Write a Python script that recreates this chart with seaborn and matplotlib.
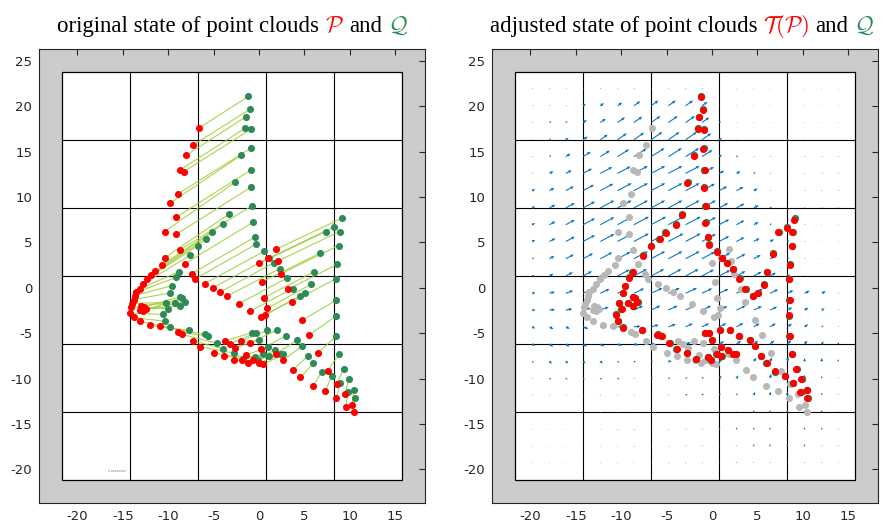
import numpy as np
import pandas as pd
import matplotlib
matplotlib.use("Agg")
import matplotlib.pyplot as plt
import seaborn as sns
from matplotlib.patches import Rectangle

# ---------------- data ----------------
# source cloud P (red, left) -- paired with target cloud Q (green)
P_x = [-6.59, -7.29, -8.02, -8.68, -8.28, -8.9, -9.83, -9.17, -10.4, -9.1, -8.68,
       -10.4, -8.13, -10.7, -11.4, -11.85, -12.36, -12.8, -13.1, -13.5, -13.7, -13.8,
       -14.0, -14.1, -13.0, -12.65, -12.4, -13.1, -12.8, -14.16, -13.8, -13.06, -12.0,
       -10.9, -8.87, -8.43, -7.25, -6.44, -4.98, -3.8, -3.76, -3.2, -2.66, -2.7, -2.0,
       -0.96, 0.25, -1.45, -1.9, -1.23, -0.6, -0.02, 0.5, 1.83, 2.63, 3.73, 4.58, 5.94,
       7.3, 8.52, 9.58, 10.46, 10.28, 9.47, 8.58, 7.56, 6.46, 5.57, 4.77, 3.62, 3.23,
       2.45, 2.08, 1.83, 1.05, 0.06, 0.39, 0.61, 0.94, 0.69, 0.25, -0.96, -2.18, -3.47,
       -4.27, -5.04, -5.97, -7.0, -7.4]
P_y = [17.6, 15.7, 14.6, 13.0, 12.8, 10.35, 9.3, 7.75, 6.2, 5.9, 4.2,
       3.3, 2.66, 2.5, 1.85, 1.45, 1.0, 0.4, -0.08, -0.5, -0.85, -1.3,
       -1.73, -2.14, -1.95, -2.1, -2.3, -2.4, -2.55, -2.77, -3.27, -3.71, -4.15,
       -4.26, -4.9, -5.14, -5.84, -6.5, -7.16, -7.5, -5.84, -6.17, -6.6, -8.0, -5.9,
       -6.06, -6.75, -7.4, -7.96, -8.3, -7.9, -8.33, -8.44, -7.3, -8.0, -9.06, -9.86, -10.85,
       -11.4, -12.17, -13.13, -13.68, -12.94, -11.7, -10.6, -9.14, -7.2, -5.18, -3.57, -1.56, -0.16,
       1.56, 2.95, 4.23, 3.25, 2.7, 0.68, -1.07, -2.25, -2.99, -3.24, -2.58, -1.73, -0.9,
       -0.46, 0.03, 0.46, 1.0, 1.56]
Q_x = [-1.15, -1.0, -1.4, -1.48, -0.9, -0.9, -1.96, -0.85, -2.66, -0.85, -0.74,
       -3.32, -0.7, -3.98, -5.12, -5.8, -6.7, -7.58, -8.79, -9.09, -9.56, -9.83,
       -10.23, -10.0, -9.2, -8.73, -8.2, -8.73, -8.43, -10.6, -10.4, -9.83, -7.73,
       -5.97, -5.56, -4.65, -3.94, -2.7, -1.74, -0.41, -0.79, -0.3, -0.02, -0.1, 0.94,
       1.97, 2.93, 1.05, 0.5, 1.09, 1.79, 2.27, 2.63, 4.17, 4.77, 5.39, 6.0, 6.93,
       8.03, 8.96, 9.8, 10.54, 10.43, 9.9, 9.32, 8.8, 8.52, 8.52, 8.52, 8.44, 8.63,
       8.77, 8.9, 9.1, 8.3, 7.37, 6.75, 6.09, 5.76, 5.1, 4.5, 3.7, 3.04, 2.27,
       1.68, 1.13, 0.53, -0.35, -0.41]
Q_y = [21.08, 19.65, 18.85, 17.6, 17.45, 15.37, 14.6, 13.0, 11.6, 11.1, 9.04,
       8.1, 7.2, 7.0, 6.1, 5.4, 4.64, 3.57, 1.78, 1.16, 0.24, -0.57,
       -1.62, -2.3, -1.62, -1.0, -1.56, -2.0, -1.07, -2.94, -3.68, -4.37, -4.67,
       -5.14, -5.3, -6.1, -6.72, -7.2, -7.85, -7.6, -4.96, -4.96, -5.77, -7.95, -4.67,
       -4.67, -5.33, -6.54, -7.3, -7.52, -6.87, -7.3, -7.34, -5.77, -6.4, -7.52, -8.33, -9.25,
       -9.72, -10.5, -11.5, -12.14, -11.3, -10.05, -8.95, -7.34, -5.33, -3.1, -1.37, 0.97, 2.59,
       4.64, 6.2, 7.64, 6.73, 6.2, 3.83, 1.78, 0.39, -0.57, -0.9, -0.08, 1.05, 2.11,
       2.77, 3.32, 4.0, 4.78, 5.6]
# adjusted cloud T(P) (red, right)
TP_x = [-1.2, -0.95, -1.4, -1.55, -0.85, -0.95, -2.0, -0.8, -2.7, -0.9, -0.7,
        -3.3, -0.75, -4.0, -5.1, -5.75, -6.7, -7.55, -8.75, -9.1, -9.6, -9.8,
        -10.2, -9.95, -9.25, -8.7, -8.25, -8.7, -8.45, -10.55, -10.4, -9.8, -7.7,
        -6.0, -5.5, -4.7, -3.9, -2.75, -1.7, -0.45, -0.75, -0.35, 0.05, -0.15, 0.9,
        1.95, 2.95, 1.0, 0.55, 1.05, 1.75, 2.3, 2.6, 4.15, 4.75, 5.4, 6.05, 6.9,
        8.0, 8.95, 9.75, 10.5, 10.45, 9.85, 9.3, 8.85, 8.55, 8.5, 8.55, 8.45, 8.6,
        8.8, 8.85, 9.0, 8.25, 7.3, 6.7, 6.1, 5.7, 5.05, 4.5, 3.65, 3.0, 2.3,
        1.7, 1.1, 0.55, -0.3, -0.45]
TP_y = [21.0, 19.6, 18.8, 17.5, 17.4, 15.3, 14.5, 12.95, 11.5, 11.0, 9.0,
        8.05, 7.15, 6.95, 6.05, 5.35, 4.6, 3.5, 1.75, 1.1, 0.2, -0.6,
        -1.65, -2.35, -1.65, -1.05, -1.6, -2.05, -1.1, -2.95, -3.7, -4.4, -4.7,
        -5.15, -5.3, -6.1, -6.7, -7.2, -7.8, -7.6, -4.95, -4.95, -5.75, -7.9, -4.65,
        -4.65, -5.3, -6.5, -7.3, -7.5, -6.85, -7.3, -7.3, -5.75, -6.4, -7.5, -8.3, -9.2,
        -9.7, -10.45, -11.45, -12.1, -11.25, -10.0, -8.9, -7.3, -5.3, -3.05, -1.35, 0.95, 2.55,
        4.6, 6.1, 7.5, 6.6, 6.1, 3.75, 1.7, 0.35, -0.6, -0.9, -0.1, 1.0, 2.05,
        2.75, 3.3, 3.95, 4.75, 5.55]

# control grid (cell edges) of the deformation
grid_x = [-21.7, -14.2, -6.7, 0.8, 8.3, 15.8]
grid_y = [-21.2, -13.7, -6.2, 1.3, 8.8, 16.3, 23.8]

# displacement-field sample positions
field_x = [-19.8, -17.9, -16.1, -14.2, -12.3, -10.4, -8.6, -6.7, -4.8, -2.9,
           -1.1, 0.8, 2.7, 4.6, 6.4, 8.3, 10.2, 12.1, 13.9]
field_y = [21.9, 20.05, 18.2, 16.3, 14.45, 12.6, 10.7, 8.8, 6.95, 5.1, 3.2, 1.3,
           -0.6, -2.45, -4.3, -6.2, -8.1, -9.95, -11.8, -13.7, -15.6, -17.45, -19.3]
# arrow length (tenths of a unit), rows top -> bottom
field_len = [
    [1, 1, 1, 1, 1, 1, 1, 1, 1, 1, 1, 0, 0, 0, 0, 0, 0, 0, 0],
    [1, 1, 1, 3, 4, 5, 7, 8, 8, 8, 6, 1, 0, 0, 0, 0, 0, 0, 0],
    [1, 2, 2, 4, 6, 8, 9, 10, 10, 10, 8, 2, 0, 0, 0, 0, 0, 0, 0],
    [1, 2, 3, 5, 8, 10, 11, 12, 12, 12, 10, 3, 0, 0, 0, 0, 0, 0, 0],
    [1, 2, 5, 8, 10, 12, 13, 14, 14, 14, 11, 3, 2, 1, 1, 1, 1, 1, 1],
    [1, 4, 6, 9, 12, 13, 14, 14, 14, 14, 12, 5, 4, 2, 1, 1, 1, 1, 1],
    [3, 5, 8, 11, 13, 14, 14, 14, 14, 14, 13, 8, 7, 4, 1, 1, 1, 1, 1],
    [3, 6, 9, 12, 14, 14, 14, 14, 14, 14, 14, 9, 8, 5, 2, 1, 1, 1, 1],
    [3, 6, 9, 12, 14, 15, 15, 15, 15, 15, 14, 10, 8, 5, 2, 1, 1, 0, 0],
    [3, 6, 9, 12, 14, 15, 15, 15, 15, 15, 14, 10, 8, 6, 4, 2, 1, 0, 0],
    [2, 5, 8, 10, 12, 13, 14, 14, 14, 14, 13, 11, 9, 7, 5, 2, 1, 0, 0],
    [2, 4, 7, 9, 11, 12, 13, 13, 13, 13, 12, 11, 9, 8, 6, 3, 1, 0, 0],
    [3, 5, 7, 8, 9, 9, 10, 11, 11, 11, 10, 9, 9, 9, 8, 6, 5, 4, 1],
    [3, 5, 6, 7, 8, 7, 9, 9, 9, 9, 9, 8, 9, 8, 7, 5, 4, 3, 1],
    [3, 4, 4, 5, 5, 5, 6, 7, 7, 7, 7, 7, 7, 6, 6, 5, 4, 2, 1],
    [3, 4, 4, 4, 4, 4, 4, 4, 4, 5, 5, 5, 5, 5, 5, 5, 4, 3, 2],
    [2, 3, 3, 3, 3, 2, 2, 2, 3, 3, 4, 4, 4, 4, 4, 4, 3, 3, 2],
    [1, 2, 2, 2, 2, 2, 1, 2, 2, 2, 2, 3, 3, 3, 4, 4, 3, 2, 1],
    [1, 1, 1, 1, 1, 1, 1, 1, 1, 2, 2, 2, 2, 3, 3, 3, 3, 2, 1],
    [0, 0, 0, 0, 1, 1, 1, 1, 1, 1, 1, 1, 1, 2, 2, 2, 2, 2, 1],
    [0, 0, 0, 0, 0, 1, 1, 1, 1, 1, 1, 2, 2, 2, 2, 2, 2, 2, 1],
    [0, 0, 0, 0, 0, 0, 1, 1, 1, 1, 1, 1, 1, 2, 2, 2, 2, 1, 1],
    [0, 0, 0, 0, 0, 0, 0, 1, 1, 1, 1, 1, 1, 1, 1, 1, 1, 1, 0],
]
# arrow direction (degrees)
field_ang = [
    [35] * 19, [35] * 19, [35] * 19, [35] * 19,
    [32] * 12 + [25] * 7,
    [28] * 15 + [22] * 4, [28] * 15 + [22] * 4, [28] * 15 + [22] * 4,
    [28] * 15 + [22] * 4, [28] * 15 + [22] * 4, [28] * 15 + [22] * 4,
    [28] * 15 + [22] * 4,
    [10, 15, 20, 25, 25, 25, 25, 25, 25, 25, 25, 25, 25, 25, 25, 25, 25, 25, 25],
    [0, 5, 10, 15, 20, 25, 25, 25, 25, 25, 25, 25, 25, 25, 25, 28, 30, 30, 30],
    [-30, -30, -25, -20, -10, 0, 5, 15, 20, 25, 25, 25, 28, 30, 30, 32, 35, 35, 35],
    [-35, -35, -35, -35, -30, -20, -10, 0, 10, 18, 25, 30, 35, 38, 40, 45, 50, 55, 60],
    [-40, -40, -40, -40, -40, -35, -20, -10, 0, 10, 25, 35, 40, 50, 60, 75, 85, 88, 90],
    [-40, -40, -40, -40, -40, -35, -25, -10, 0, 10, 25, 40, 50, 60, 75, 85, 88, 90, 90],
    [-40, -40, -40, -40, -40, -35, -25, -10, 0, 10, 30, 45, 55, 65, 80, 88, 90, 90, 90],
    [-40, -40, -40, -40, -40, -35, -25, -10, 10, 30, 50, 65, 75, 85, 90, 90, 90, 90, 90],
    [-40, -40, -40, -40, -40, -35, -25, -10, 10, 30, 50, 65, 75, 85, 90, 90, 90, 90, 90],
    [-40, -40, -40, -40, -40, -35, -25, -10, 10, 30, 50, 65, 75, 85, 90, 90, 90, 90, 90],
    [-40, -40, -40, -40, -40, -35, -25, -10, 10, 30, 50, 65, 75, 85, 90, 90, 90, 90, 90],
]

x_ticks = [-20, -15, -10, -5, 0, 5, 10, 15]
y_ticks = [-20, -15, -10, -5, 0, 5, 10, 15, 20, 25]

# ---------------- styling ----------------
sns.set_theme(style="white")
plt.rcParams["font.family"] = ["DejaVu Sans"]
plt.rcParams["mathtext.fontset"] = "cm"
plt.rcParams["axes.unicode_minus"] = False

RED = "#ff0000"
GREEN = "#2e8b57"
GRAY = "#b8b8b8"
LINEG = "#9acd32"
BLUE = "#0072bd"

W, H = 886, 522
fig = plt.figure(figsize=(W / 100, H / 100), dpi=100)
axL = fig.add_axes([39.3 / W, 1 - 503 / H, 385.7 / W, 454 / H])
axR = fig.add_axes([492.3 / W, 1 - 503 / H, 385.7 / W, 454 / H])


def frame(ax):
    ax.set_facecolor("#cccccc")
    ax.set_xlim(-24.2, 18.3)
    ax.set_ylim(-23.7, 26.3)
    ax.set_xticks(x_ticks)
    ax.set_yticks(y_ticks)
    ax.set_xticklabels([str(t) for t in x_ticks])
    ax.set_yticklabels([str(t) for t in y_ticks])
    ax.tick_params(direction="in", top=True, right=True, length=4, width=0.8,
                   labelsize=9.5, colors="#262626", pad=5)
    for s in ax.spines.values():
        s.set_color("#262626")
        s.set_linewidth(0.8)
    ax.add_patch(Rectangle((grid_x[0], grid_y[0]), grid_x[-1] - grid_x[0],
                           grid_y[-1] - grid_y[0], facecolor="white",
                           edgecolor="black", lw=0.9, zorder=0.5))
    ax.vlines(grid_x[1:-1], grid_y[0], grid_y[-1], colors="black", lw=0.8, zorder=0.8)
    ax.hlines(grid_y[1:-1], grid_x[0], grid_x[-1], colors="black", lw=0.8, zorder=0.8)
    ax.set_xlabel("")
    ax.set_ylabel("")


frame(axL)
frame(axR)

dfP = pd.DataFrame({"x": P_x, "y": P_y})
dfQ = pd.DataFrame({"x": Q_x, "y": Q_y})
dfT = pd.DataFrame({"x": TP_x, "y": TP_y})

# left panel: correspondences + clouds
axL.plot(np.vstack([P_x, Q_x]), np.vstack([P_y, Q_y]), color=LINEG, lw=0.8,
         alpha=0.85, zorder=2)
sns.scatterplot(data=dfQ, x="x", y="y", color=GREEN, s=26, linewidth=0, ax=axL, zorder=3)
sns.scatterplot(data=dfP, x="x", y="y", color=RED, s=26, linewidth=0, ax=axL, zorder=4)
axL.text(-16.6, -20.3, "a aaaaaaaa", fontsize=2.2, color="#888888")

# right panel: displacement field + clouds
FX, FY = np.meshgrid(field_x, field_y)
L = np.array(field_len, dtype=float) / 10.0
A = np.deg2rad(np.array(field_ang, dtype=float))
axR.quiver(FX, FY, L * np.cos(A), L * np.sin(A), angles="xy", scale_units="xy",
           scale=0.8, color=BLUE, width=0.0027, headwidth=3, headlength=3.5,
           headaxislength=3.2, minlength=0.6, zorder=2)
sns.scatterplot(data=dfP, x="x", y="y", color=GRAY, s=26, linewidth=0, ax=axR, zorder=3)
sns.scatterplot(data=dfQ, x="x", y="y", color=GREEN, s=28, linewidth=0, ax=axR, zorder=4)
sns.scatterplot(data=dfT, x="x", y="y", color=RED, s=26, linewidth=0, ax=axR, zorder=5)
for ax in (axL, axR):
    ax.set_xlabel("")
    ax.set_ylabel("")
    if ax.get_legend():
        ax.get_legend().remove()

# titles made of coloured pieces
TITLE_FONT = ["Liberation Serif", "DejaVu Serif"]
TS = 16.5


def colored_title(xc, base_y, parts):
    r = fig.canvas.get_renderer()
    probe1 = fig.text(0, 0, "x x", fontsize=TS, family=TITLE_FONT)
    probe2 = fig.text(0, 0, "xx", fontsize=TS, family=TITLE_FONT)
    gap = probe1.get_window_extent(r).width - probe2.get_window_extent(r).width
    probe1.remove()
    probe2.remove()
    texts, widths = [], []
    for s, c in parts:
        t = fig.text(0, base_y, s, color=c, fontsize=TS, family=TITLE_FONT,
                     va="baseline", ha="left")
        texts.append(t)
        widths.append(t.get_window_extent(r).width)
    total = sum(widths) + gap * (len(parts) - 1)
    x = xc * W - total / 2
    for t, w in zip(texts, widths):
        t.set_x(x / W)
        x += w + gap


colored_title(233 / W, 1 - 32 / H, [("original state of point clouds", "black"),
                                    (r"$\mathcal{P}$", RED), ("and", "black"),
                                    (r"$\mathcal{Q}$", GREEN)])
colored_title(682 / W, 1 - 32 / H, [("adjusted state of point clouds", "black"),
                                    (r"$\mathcal{T}(\mathcal{P})$", RED), ("and", "black"),
                                    (r"$\mathcal{Q}$", GREEN)])

fig.savefig("out.png", dpi=100)
